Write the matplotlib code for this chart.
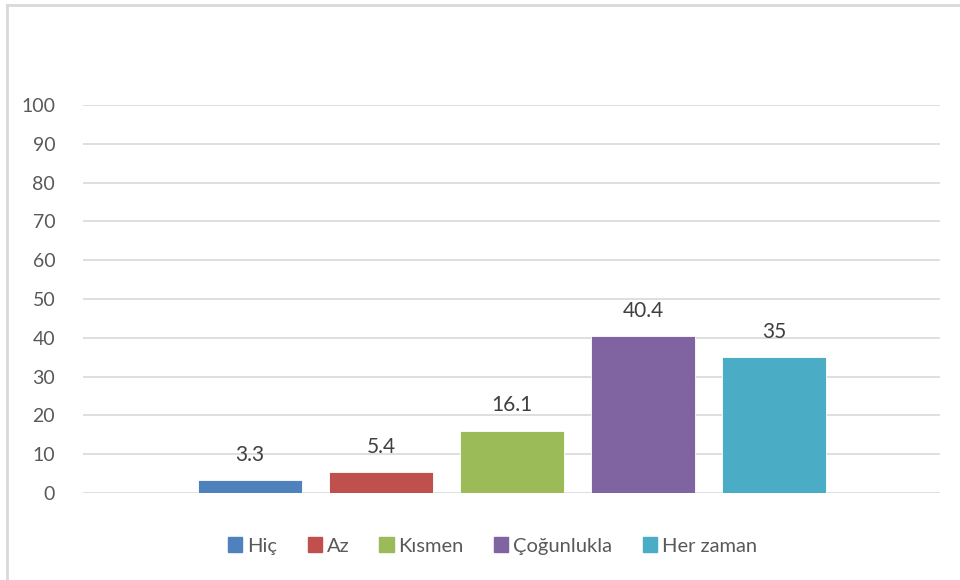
import numpy as np
import matplotlib.pyplot as plt
from matplotlib.lines import Line2D

# Données
categories = ['Hiç', 'Az', 'Kısmen', 'Çoğunlukla', 'Her zaman']
values = [3.3, 5.4, 16.1, 40.4, 35]
value_labels = ['3.3', '5.4', '16.1', '40.4', '35']
colors = ['#4F81BD', '#C0504D', '#9BBB59', '#8064A2', '#4BACC6']
yticks = [0, 10, 20, 30, 40, 50, 60, 70, 80, 90, 100]

plt.rcParams['font.family'] = ['Lato', 'DejaVu Sans']

fig = plt.figure(figsize=(9.6, 5.8), dpi=100)
ax = fig.add_axes([83/960, 1 - 493/580, (940 - 83)/960, (493 - 105)/580])

x = np.arange(len(categories))
bars = ax.bar(x, values, width=0.794, color=colors, edgecolor='white',
              linewidth=0.6, zorder=3)

# Étiquettes de valeur au-dessus des barres
for xi, v, lab in zip(x, values, value_labels):
    ax.annotate(lab, (xi, v), xytext=(0, 11), textcoords='offset points',
                ha='center', va='bottom', fontsize=15, color='#404040')

ax.set_xlim(-1.275, 5.267)
ax.set_ylim(0, 100)
ax.set_yticks(yticks)
ax.set_xticks([])
ax.grid(axis='y', color='#d9d9d9', linewidth=1.2, zorder=0)
ax.set_axisbelow(True)
for s in ax.spines.values():
    s.set_visible(False)
ax.tick_params(axis='y', length=0, pad=20, labelsize=14, labelcolor='#595959')

# Légende
handles = [plt.Rectangle((0, 0), 1, 1, color=c) for c in colors]
fig.legend(handles, categories, loc='center', bbox_to_anchor=(0.513, 1 - 546/580),
           ncol=5, frameon=False, fontsize=14.5, handlelength=0.7, handleheight=0.7,
           handletextpad=0.25, columnspacing=1.5, labelcolor='#595959')

# Bordure du graphique (haut et gauche)
fig.add_artist(Line2D([7/960, 1], [1 - 5/580, 1 - 5/580], color='#d9d9d9', linewidth=2))
fig.add_artist(Line2D([7/960, 7/960], [0, 1 - 5/580], color='#d9d9d9', linewidth=2))

fig.savefig('out.png', dpi=100)
